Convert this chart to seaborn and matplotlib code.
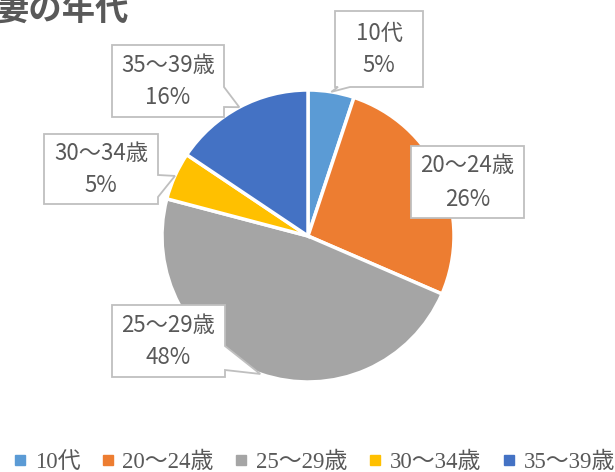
import numpy as np
import matplotlib
matplotlib.use("Agg")
import matplotlib.pyplot as plt
from matplotlib.patches import Polygon
from matplotlib.lines import Line2D
import seaborn as sns

# ---- data ----
categories = ["10代", "20～24歳", "25～29歳", "30～34歳", "35～39歳"]
shares = [5.1, 26.4, 47.6, 5.3, 15.6]
colors = ["#5B9BD5", "#ED7D31", "#A5A5A5", "#FFC000", "#4472C4"]
title = "妻の年代"

sns.set_theme(style="white")
plt.rcParams["font.family"] = ["Noto Sans CJK JP", "DejaVu Sans"]

W, H = 615, 472
fig = plt.figure(figsize=(W / 100, H / 100), dpi=100)
ax = fig.add_axes([0, 0, 1, 1])

def Y(py):
    return H - py

CX, CY, R = 308, 236, 146
palette = sns.color_palette(colors)
wedges, _ = ax.pie(shares, colors=palette, startangle=90, counterclock=False,
                   center=(CX, Y(CY)), radius=R,
                   wedgeprops=dict(edgecolor="white", linewidth=2.5))
ax.set_xlim(0, W)
ax.set_ylim(0, H)
ax.set_aspect("equal")
ax.axis("off")

# ---- callout layout (pixel coords): box (x0, y0, x1, y1), pointer edge, base span ----
layout = [
    dict(box=(335, 11, 423, 87), edge="bottom", base=(338, 350)),
    dict(box=(411, 146, 524, 218), edge=None, base=None),
    dict(box=(112, 305, 225, 377), edge="right", base=(346, 370)),
    dict(box=(44, 134, 158, 204), edge="right", base=(175, 197)),
    dict(box=(112, 45, 224, 117), edge="right", base=(87, 107)),
]

tc = "#595959"
for w, cat, v, lay in zip(wedges, categories, shares, layout):
    mid = np.deg2rad((w.theta1 + w.theta2) / 2)
    tip = (CX + R * np.cos(mid), Y(CY) + R * np.sin(mid))
    x0, y0, x1, y1 = lay["box"]
    X0, X1 = x0, x1
    Yt, Yb = Y(y0), Y(y1)
    if lay["edge"] == "right":
        b1, b2 = Y(lay["base"][0]), Y(lay["base"][1])
        pts = [(X0, Yt), (X1, Yt), (X1, b1), tip, (X1, b2), (X1, Yb), (X0, Yb)]
    elif lay["edge"] == "bottom":
        a1, a2 = lay["base"]
        pts = [(X0, Yt), (X1, Yt), (X1, Yb), (a2, Yb), tip, (a1, Yb), (X0, Yb)]
    else:
        pts = [(X0, Yt), (X1, Yt), (X1, Yb), (X0, Yb)]
    ax.add_patch(Polygon(pts, closed=True, facecolor="white", edgecolor="#BFBFBF",
                         linewidth=1.3, zorder=5, clip_on=False))
    cxp = (X0 + X1) / 2
    cyp = (Yt + Yb) / 2
    ax.text(cxp, cyp + 16, cat, ha="center", va="center", fontsize=16,
            color=tc, zorder=6)
    ax.text(cxp, cyp - 17, f"{round(v)}%", ha="center", va="center", fontsize=16,
            color=tc, zorder=6)

# ---- title (partially cut off at top-left as in reference) ----
ax.text(-4, Y(10), title, ha="left", va="center", fontsize=24, fontweight="bold",
        color=tc, clip_on=False)

# ---- legend ----
handles = [Line2D([0], [0], marker="s", linestyle="none", markersize=6.5,
                  markerfacecolor=c, markeredgecolor=c) for c in colors]
leg = fig.legend(handles, categories, loc="center", ncol=5, frameon=False,
                 bbox_to_anchor=(314 / W, (H - 462) / H),
                 handlelength=0.6, handletextpad=0.35, columnspacing=0.9,
                 prop=dict(family=["Liberation Serif", "Noto Sans CJK JP"], size=16.5))
for t in leg.get_texts():
    t.set_color(tc)

fig.savefig("out.png", dpi=100)
